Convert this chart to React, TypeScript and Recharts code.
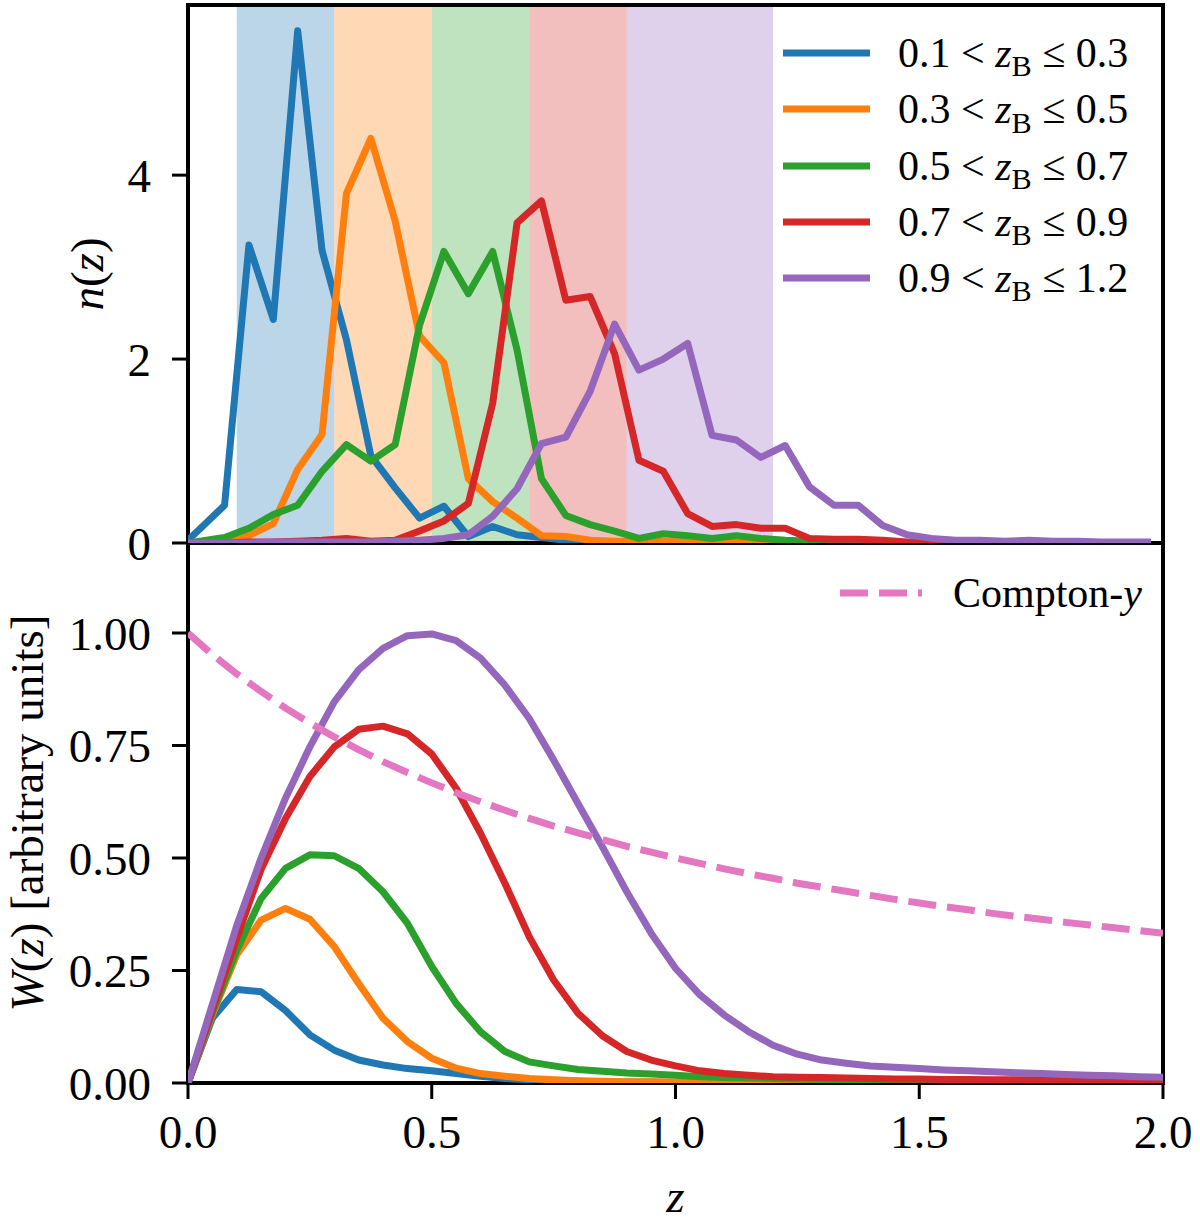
import { LineChart, Line, XAxis, YAxis, ReferenceArea, Legend } from "recharts";

const SERIF = '"Liberation Serif", "DejaVu Serif", serif';

// redshift grid of the n(z) histograms (bin centres, plus the origin)
const Z_N = [
  0, 0.075, 0.125, 0.175, 0.225, 0.275, 0.325, 0.375, 0.425, 0.475,
  0.525, 0.575, 0.625, 0.675, 0.725, 0.775, 0.825, 0.875, 0.925, 0.975,
  1.025, 1.075, 1.125, 1.175, 1.225, 1.275, 1.325, 1.375, 1.425, 1.475,
  1.525, 1.575, 1.625, 1.675, 1.725, 1.775, 1.825, 1.875, 1.925, 1.975,
];

const N_BLUE = [
  0.03, 0.41, 3.24, 2.43, 5.57, 3.18, 2.21, 0.95, 0.6, 0.27,
  0.4, 0.07, 0.18, 0.09, 0.06, 0.03, 0.02, 0.01, 0.01, 0,
  0, 0, 0, 0, 0, 0, 0, 0, 0, 0,
  0, 0, 0, 0, 0, 0, 0, 0, 0, 0,
];
const N_ORANGE = [
  0, 0.02, 0.08, 0.21, 0.8, 1.18, 3.8, 4.4, 3.5, 2.25,
  1.96, 0.7, 0.45, 0.27, 0.08, 0.07, 0.03, 0.02, 0.01, 0.02,
  0.01, 0.01, 0.01, 0, 0, 0, 0, 0, 0, 0,
  0, 0, 0, 0, 0, 0, 0, 0, 0, 0,
];
const N_GREEN = [
  0, 0.06, 0.16, 0.31, 0.41, 0.78, 1.07, 0.89, 1.07, 2.37,
  3.17, 2.71, 3.17, 2.1, 0.7, 0.3, 0.2, 0.13, 0.05, 0.1,
  0.08, 0.05, 0.08, 0.05, 0.03, 0.02, 0.01, 0.01, 0.01, 0,
  0, 0, 0, 0, 0, 0, 0, 0, 0, 0,
];
const N_RED = [
  0, 0, 0.01, 0.01, 0.02, 0.03, 0.05, 0.02, 0.03, 0.13,
  0.24, 0.43, 1.52, 3.48, 3.72, 2.64, 2.68, 2.06, 0.9, 0.78,
  0.32, 0.18, 0.2, 0.16, 0.16, 0.05, 0.04, 0.04, 0.03, 0.01,
  0.01, 0.01, 0, 0, 0, 0, 0, 0, 0, 0,
];
const N_PURPLE = [
  0, 0, 0, 0.01, 0.01, 0.01, 0.01, 0.01, 0.02, 0.03,
  0.05, 0.09, 0.29, 0.59, 1.08, 1.15, 1.65, 2.38, 1.88, 2.0,
  2.17, 1.17, 1.12, 0.93, 1.06, 0.61, 0.41, 0.41, 0.19, 0.09,
  0.05, 0.03, 0.03, 0.02, 0.03, 0.02, 0.02, 0.01, 0.01, 0.01,
];

// redshift grid of the kernels
const Z_W = [
  0, 0.05, 0.1, 0.15, 0.2, 0.25, 0.3, 0.35, 0.4, 0.45,
  0.5, 0.55, 0.6, 0.65, 0.7, 0.75, 0.8, 0.85, 0.9, 0.95,
  1.0, 1.05, 1.1, 1.15, 1.2, 1.25, 1.3, 1.35, 1.4, 1.45,
  1.5, 1.55, 1.6, 1.65, 1.7, 1.75, 1.8, 1.85, 1.9, 1.95, 2.0,
];

const W_BLUE = [
  0, 0.144, 0.208, 0.203, 0.161, 0.107, 0.073, 0.051, 0.04, 0.032,
  0.027, 0.021, 0.015, 0.01, 0.007, 0.005, 0.004, 0.003, 0.002, 0.002,
  0.001, 0.001, 0.001, 0.001, 0.001, 0.001, 0.001, 0.001, 0.001, 0.001,
  0.001, 0.001, 0.001, 0.001, 0.001, 0.001, 0.001, 0.001, 0.001, 0.001, 0.001,
];
const W_ORANGE = [
  0, 0.152, 0.285, 0.362, 0.388, 0.364, 0.303, 0.221, 0.144, 0.092,
  0.055, 0.033, 0.021, 0.015, 0.01, 0.007, 0.005, 0.004, 0.003, 0.003,
  0.002, 0.002, 0.002, 0.002, 0.002, 0.002, 0.002, 0.002, 0.002, 0.002,
  0.002, 0.002, 0.002, 0.002, 0.002, 0.002, 0.002, 0.002, 0.002, 0.002, 0.002,
];
const W_GREEN = [
  0, 0.156, 0.295, 0.41, 0.477, 0.507, 0.505, 0.477, 0.425, 0.355,
  0.259, 0.177, 0.114, 0.07, 0.047, 0.038, 0.03, 0.026, 0.022, 0.02,
  0.017, 0.014, 0.012, 0.011, 0.01, 0.009, 0.008, 0.008, 0.007, 0.007,
  0.006, 0.006, 0.006, 0.005, 0.005, 0.005, 0.005, 0.004, 0.004, 0.004, 0.004,
];
const W_RED = [
  0, 0.162, 0.322, 0.475, 0.588, 0.681, 0.747, 0.786, 0.793, 0.776,
  0.731, 0.655, 0.555, 0.444, 0.325, 0.229, 0.155, 0.105, 0.07, 0.051,
  0.038, 0.027, 0.021, 0.017, 0.014, 0.013, 0.012, 0.011, 0.01, 0.009,
  0.009, 0.008, 0.008, 0.007, 0.007, 0.007, 0.006, 0.006, 0.006, 0.005, 0.005,
];
const W_PURPLE = [
  0, 0.175, 0.35, 0.5, 0.633, 0.747, 0.847, 0.918, 0.966, 0.994,
  0.998, 0.983, 0.944, 0.884, 0.81, 0.718, 0.621, 0.525, 0.425, 0.333,
  0.255, 0.196, 0.151, 0.114, 0.084, 0.064, 0.051, 0.044, 0.038, 0.035,
  0.032, 0.029, 0.027, 0.025, 0.023, 0.021, 0.019, 0.017, 0.016, 0.014, 0.013,
];
const W_COMPTON = [
  1.0, 0.952, 0.909, 0.87, 0.833, 0.8, 0.769, 0.741, 0.714, 0.69,
  0.667, 0.645, 0.625, 0.606, 0.588, 0.571, 0.556, 0.541, 0.526, 0.513,
  0.5, 0.488, 0.476, 0.465, 0.455, 0.444, 0.435, 0.426, 0.417, 0.408,
  0.4, 0.392, 0.385, 0.377, 0.37, 0.364, 0.357, 0.351, 0.345, 0.339, 0.333,
];

// tomographic bins
const BIN_LO = ["0.1", "0.3", "0.5", "0.7", "0.9"];
const BIN_HI = ["0.3", "0.5", "0.7", "0.9", "1.2"];
const BIN_EDGES = [0.1, 0.3, 0.5, 0.7, 0.9, 1.2];
const COLORS = ["#1f77b4", "#ff7f0e", "#2ca02c", "#d62728", "#9467bd"];
const PINK = "#e377c2";
const KEYS = ["b1", "b2", "b3", "b4", "b5"];

const X_TICKS = [0, 0.5, 1.0, 1.5, 2.0];
const N_TICKS = [0, 2, 4];
const W_TICKS = [0, 0.25, 0.5, 0.75, 1.0];

const N_SERIES = [N_BLUE, N_ORANGE, N_GREEN, N_RED, N_PURPLE];
const W_SERIES = [W_BLUE, W_ORANGE, W_GREEN, W_RED, W_PURPLE];

const nRows = Z_N.map((z, i) => {
  const row: any = { z };
  KEYS.forEach((k, j) => (row[k] = N_SERIES[j][i]));
  return row;
});
const wRows = Z_W.map((z, i) => {
  const row: any = { z, compton: W_COMPTON[i] };
  KEYS.forEach((k, j) => (row[k] = W_SERIES[j][i]));
  return row;
});

const N_MAX = 5.85;
const W_MAX = 1.2;
const LW = 7;

const tickFont = { fontFamily: SERIF, fontSize: 47, fill: "#000" };
const tickLine = { stroke: "#000", strokeWidth: 3 };

const VTitle = ({ viewBox, dx, children }: any) => {
  const cx = (viewBox?.x ?? 0) + dx;
  const cy = (viewBox?.y ?? 0) + (viewBox?.height ?? 0) / 2;
  return (
    <text
      x={cx}
      y={cy}
      transform={`rotate(-90 ${cx} ${cy})`}
      textAnchor="middle"
      dominantBaseline="central"
      fontFamily={SERIF}
      fontSize={47}
      fill="#000"
    >
      {children}
    </text>
  );
};

const NLegend = () => (
  <div style={{ fontFamily: SERIF, fontSize: 42, color: "#000" }}>
    {BIN_LO.map((lo, i) => (
      <div key={lo} style={{ display: "flex", alignItems: "center", height: 56.3 }}>
        <svg width={87} height={10}>
          <line x1={0} x2={87} y1={5} y2={5} stroke={COLORS[i]} strokeWidth={LW} />
        </svg>
        <span style={{ marginLeft: 28, lineHeight: 1, whiteSpace: "nowrap" }}>
          {lo} &lt; <i>z</i>
          <span style={{ fontSize: "0.72em", position: "relative", top: "0.3em" }}>B</span> ≤{" "}
          {BIN_HI[i]}
        </span>
      </div>
    ))}
  </div>
);

const WLegend = () => (
  <div style={{ fontFamily: SERIF, fontSize: 42, color: "#000" }}>
    <div style={{ display: "flex", alignItems: "center", height: 56 }}>
      <svg width={82} height={10}>
        <line x1={0} x2={82} y1={5} y2={5} stroke={PINK} strokeWidth={LW} strokeDasharray="28 11" />
      </svg>
      <span style={{ marginLeft: 31, lineHeight: 1, whiteSpace: "nowrap" }}>
        Compton-<i>y</i>
      </span>
    </div>
  </div>
);

const TopPanel = () => (
  <LineChart width={1200} height={600} data={nRows} margin={{ top: 5, right: 37, bottom: 57, left: 0 }}>
    <XAxis type="number" dataKey="z" domain={[0, 2]} ticks={X_TICKS} hide allowDataOverflow />
    <YAxis
      type="number"
      domain={[0, N_MAX]}
      ticks={N_TICKS}
      interval={0}
      width={188}
      axisLine={false}
      tickSize={16}
      tickMargin={21}
      tickLine={tickLine}
      tick={tickFont}
      allowDataOverflow
      label={{
        content: (p: any) => (
          <VTitle viewBox={p.viewBox} dx={87}>
            <tspan fontStyle="italic">n</tspan>(<tspan fontStyle="italic">z</tspan>)
          </VTitle>
        ),
      }}
    />
    {COLORS.map((c, i) => (
      <ReferenceArea
        key={`band-${i}`}
        x1={BIN_EDGES[i]}
        x2={BIN_EDGES[i + 1]}
        y1={0}
        y2={N_MAX}
        fill={c}
        fillOpacity={0.3}
        stroke="none"
        ifOverflow="visible"
      />
    ))}
    {KEYS.map((k, i) => (
      <Line
        key={k}
        type="linear"
        dataKey={k}
        stroke={COLORS[i]}
        strokeWidth={LW}
        strokeLinejoin="round"
        dot={false}
        activeDot={false}
        isAnimationActive={false}
      />
    ))}
    <ReferenceArea x1={0} x2={2} y1={0} y2={N_MAX} fill="none" stroke="#000" strokeWidth={4} ifOverflow="visible" />
    <Legend
      layout="vertical"
      align="center"
      verticalAlign="middle"
      content={() => <NLegend />}
      wrapperStyle={{ position: "absolute", left: 783, top: 25, width: "auto", height: "auto" }}
    />
  </LineChart>
);

const BottomPanel = () => (
  <LineChart width={1200} height={1223} data={wRows} margin={{ top: 543, right: 37, bottom: 0, left: 0 }}>
    <XAxis
      type="number"
      dataKey="z"
      domain={[0, 2]}
      ticks={X_TICKS}
      interval={0}
      tickFormatter={(v: number) => v.toFixed(1)}
      height={140}
      axisLine={false}
      tickSize={16}
      tickMargin={16}
      tickLine={tickLine}
      tick={tickFont}
      allowDataOverflow
      label={{
        content: (p: any) => {
          const vb = p.viewBox || { x: 188, y: 1083, width: 975 };
          return (
            <text
              x={vb.x + vb.width / 2}
              y={vb.y + 129}
              textAnchor="middle"
              fontFamily={SERIF}
              fontSize={47}
              fontStyle="italic"
              fill="#000"
            >
              z
            </text>
          );
        },
      }}
    />
    <YAxis
      type="number"
      domain={[0, W_MAX]}
      ticks={W_TICKS}
      interval={0}
      tickFormatter={(v: number) => v.toFixed(2)}
      width={188}
      axisLine={false}
      tickSize={16}
      tickMargin={21}
      tickLine={tickLine}
      tick={tickFont}
      allowDataOverflow
      label={{
        content: (p: any) => (
          <VTitle viewBox={p.viewBox} dx={27}>
            <tspan fontStyle="italic">W</tspan>(<tspan fontStyle="italic">z</tspan>) [arbitrary units]
          </VTitle>
        ),
      }}
    />
    {KEYS.map((k, i) => (
      <Line
        key={k}
        type="linear"
        dataKey={k}
        stroke={COLORS[i]}
        strokeWidth={LW}
        strokeLinejoin="round"
        dot={false}
        activeDot={false}
        isAnimationActive={false}
      />
    ))}
    <Line
      type="linear"
      dataKey="compton"
      stroke={PINK}
      strokeWidth={LW}
      strokeDasharray="28 11"
      dot={false}
      activeDot={false}
      isAnimationActive={false}
    />
    <ReferenceArea x1={0} x2={2} y1={0} y2={W_MAX} fill="none" stroke="#000" strokeWidth={4} ifOverflow="visible" />
    <Legend
      layout="vertical"
      align="center"
      verticalAlign="middle"
      content={() => <WLegend />}
      wrapperStyle={{ position: "absolute", left: 840, top: 565, width: "auto", height: "auto" }}
    />
  </LineChart>
);

export default function App() {
  return (
    <div style={{ position: "absolute", left: 0, top: 0, width: 1200, height: 1223, background: "#fff" }}>
      <div style={{ position: "absolute", left: 0, top: 0 }}>
        <BottomPanel />
      </div>
      <div style={{ position: "absolute", left: 0, top: 0 }}>
        <TopPanel />
      </div>
    </div>
  );
}
